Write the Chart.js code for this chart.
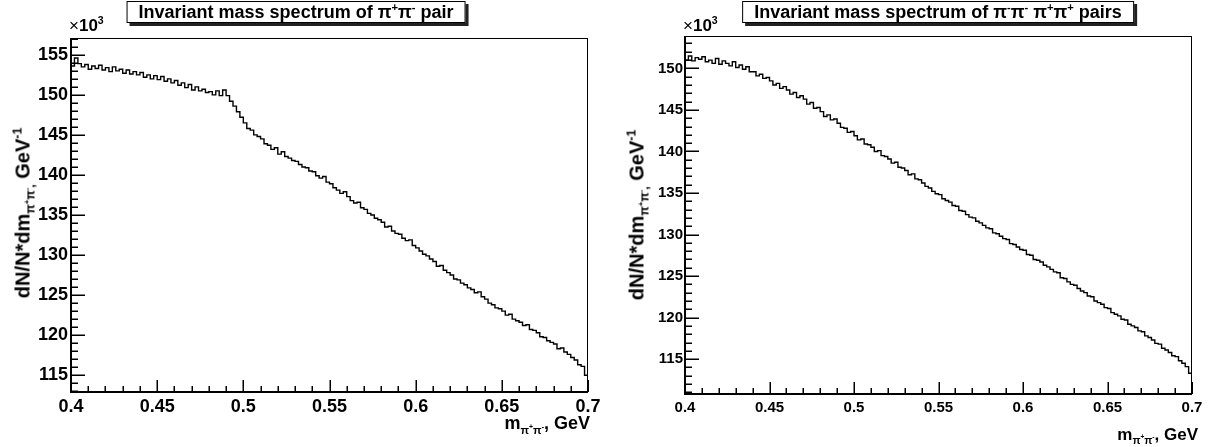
<!DOCTYPE html>
<html>
<head>
<meta charset="utf-8">
<script src="https://cdn.jsdelivr.net/npm/chart.js@4.4.1/dist/chart.umd.min.js"></script>
<style>
  body { margin: 0; background: #fff; width: 1216px; height: 447px; position: relative; overflow: hidden;
         font-family: "Liberation Sans", Arial, sans-serif; font-weight: bold; color: #000; }
  .panel { position: absolute; top: 0; width: 608px; height: 447px; }
  .panel canvas { position: absolute; left: 0; top: 0; }
  .title { position: absolute; top: 1px; transform: translateX(-50%); background: #fff; border: 1px solid #000;
           box-shadow: 3px 3px 0 #222; padding: 0 11px; font-size: 18px; line-height: 20px; white-space: nowrap; }
  .exp { position: absolute; top: 16px; font-size: 17px; }
  .exp span { font-weight: normal; }
  .ytitle { position: absolute; white-space: nowrap; transform: translate(-50%, -50%) rotate(-90deg); font-size: 20px; }
  .xtitle { position: absolute; white-space: nowrap; transform: translate(-100%, -50%); font-size: 18px; }
  sup, sub { font-size: 62%; line-height: 0; }
</style>
</head>
<body>
<div class="panel" style="left:0">
  <canvas id="pipiChart" width="608" height="447"></canvas>
  <div class="title" style="left:296px">Invariant mass spectrum of &pi;<sup>+</sup>&pi;<sup>-</sup> pair</div>
  <div class="exp" style="left:69px"><span>&times;</span>10<sup>3</sup></div>
  <div class="ytitle" style="left:23px; top:213px">dN/N*dm<sub>&pi;<sup>+</sup>&pi;<sup>-</sup>,</sub> GeV<sup>-1</sup></div>
  <div class="xtitle" style="left:590px; top:423px">m<sub>&pi;<sup>+</sup>&pi;<sup>-</sup></sub>, GeV</div>
</div>
<div class="panel" style="left:608px">
  <canvas id="fourPiChart" width="608" height="447"></canvas>
  <div class="title" style="left:330px">Invariant mass spectrum of &pi;<sup>-</sup>&pi;<sup>-</sup> &pi;<sup>+</sup>&pi;<sup>+</sup> pairs</div>
  <div class="exp" style="left:75px"><span>&times;</span>10<sup>3</sup></div>
  <div class="ytitle" style="left:29px; top:215px">dN/N*dm<sub>&pi;<sup>+</sup>&pi;<sup>-</sup>,</sub> GeV<sup>-1</sup></div>
  <div class="xtitle" style="left:590px; top:435px; font-size:17px">m<sub>&pi;<sup>+</sup>&pi;<sup>-</sup></sub>, GeV</div>
</div>
<script>
// histogram binning: 150 bins of 2 MeV from 0.4 to 0.7 GeV
const binStart = 0.4;
const binWidth = 0.002;

// dN/N*dm, units of 10^3 — pi+ pi- pair
const pipiCounts = [
  153.6, 154.6, 153.9, 153.5, 153.8, 153.2, 153.6, 153.3, 153.7, 153.1,
  153.4, 152.9, 153.5, 153.0, 153.2, 152.7, 153.1, 152.6, 152.9, 152.5,
  152.8, 152.2, 152.5, 152.0, 152.4, 151.9, 152.3, 151.7, 152.0, 151.5,
  151.8, 151.2, 151.5, 150.9, 151.3, 150.6, 151.0, 150.5, 150.7, 150.3,
  150.4, 150.0, 150.5, 149.9, 150.6, 149.9, 149.2, 148.6, 147.9, 147.2,
  146.5, 145.8, 145.6, 145.0, 144.8, 144.5, 143.9, 143.7, 143.2, 143.4,
  142.6, 142.9, 142.3, 142.1, 141.8, 141.7, 141.3, 141.0, 140.9, 140.5,
  140.4, 139.9, 139.6, 139.8, 139.1, 138.9, 138.4, 138.1, 137.7, 137.9,
  137.3, 136.8, 136.5, 136.6, 135.9, 135.7, 135.2, 135.0, 134.6, 134.4,
  134.1, 133.5, 133.6, 133.0, 132.7, 132.6, 132.1, 131.8, 131.9, 131.2,
  130.9, 130.5, 130.1, 129.9, 129.5, 129.2, 128.6, 128.7, 128.1, 127.8,
  127.5, 127.0, 126.9, 126.5, 126.3, 125.9, 125.7, 125.3, 125.4, 124.8,
  124.5, 124.0, 123.8, 123.4, 123.3, 123.0, 122.5, 122.6, 122.0, 121.8,
  121.6, 121.2, 121.3, 120.7, 120.6, 120.3, 119.8, 119.7, 119.3, 119.1,
  118.9, 118.3, 118.4, 117.9, 117.6, 117.2, 116.9, 116.3, 116.1, 115.0
];

// dN/N*dm, units of 10^3 — pi- pi- pi+ pi+ pairs
const fourPiCounts = [
  151.0, 151.5, 150.9, 151.3, 151.1, 151.4, 150.8, 151.0, 150.6, 151.2,
  150.5, 150.9, 150.6, 150.3, 150.8, 150.1, 150.4, 149.9, 150.2, 149.6,
  149.6, 149.1, 149.3, 148.8, 148.9, 148.5, 148.0, 148.2, 147.6, 147.8,
  147.4, 146.9, 147.1, 146.5, 146.7, 146.3, 145.7, 145.9, 145.2, 145.3,
  144.8, 144.2, 144.4, 143.8, 143.9, 143.4, 142.9, 142.8, 142.3, 142.4,
  141.9, 141.4, 141.5, 140.9, 140.8, 140.5, 140.0, 140.1, 139.5, 139.4,
  139.1, 138.6, 138.7, 138.1, 138.0, 137.7, 137.2, 137.3, 136.7, 136.6,
  136.2, 135.8, 135.6, 135.2, 134.9, 134.8, 134.3, 134.1, 133.9, 133.5,
  133.4, 132.9, 132.8, 132.4, 132.1, 132.0, 131.6, 131.4, 131.1, 130.8,
  130.7, 130.2, 130.1, 129.8, 129.5, 129.4, 128.9, 128.8, 128.5, 128.2,
  128.1, 127.6, 127.5, 127.0, 126.9, 126.7, 126.3, 126.1, 125.8, 125.5,
  125.4, 124.8, 124.7, 124.3, 124.0, 123.9, 123.5, 123.2, 123.0, 122.6,
  122.5, 122.0, 121.8, 121.6, 121.2, 121.1, 120.6, 120.4, 120.2, 119.8,
  119.7, 119.2, 119.0, 118.8, 118.4, 118.3, 117.8, 117.6, 117.3, 116.9,
  116.8, 116.3, 116.1, 115.8, 115.4, 115.3, 114.8, 114.5, 114.1, 113.3
];

// axis ticks
const xTickValues = [0.4, 0.45, 0.5, 0.55, 0.6, 0.65, 0.7];
const xTickLabels = ["0.4", "0.45", "0.5", "0.55", "0.6", "0.65", "0.7"];
const pipiYTicks = [115, 120, 125, 130, 135, 140, 145, 150, 155];
const fourPiYTicks = [115, 120, 125, 130, 135, 140, 145, 150];

// histogram as a stepped line: one point per lower bin edge plus the closing edge
function toSteps(counts) {
  const pts = counts.map((c, i) => ({ x: binStart + i * binWidth, y: c }));
  pts.push({ x: binStart + counts.length * binWidth, y: counts[counts.length - 1] });
  return pts;
}

// ROOT-like frame with inward ticks
const rootFrame = {
  id: "rootFrame",
  afterDatasetsDraw(chart, args, opts) {
    const { ctx, chartArea: a, scales } = chart;
    const x = scales.x, y = scales.y;
    ctx.save();
    ctx.strokeStyle = "#000";
    ctx.lineWidth = 1;
    ctx.strokeRect(a.left, a.top + 0.5, a.right - a.left - 0.5, a.bottom - a.top);
    ctx.lineWidth = 2;
    ctx.beginPath();
    ctx.moveTo(a.left, a.top);
    ctx.lineTo(a.left, a.bottom);
    ctx.lineTo(a.right, a.bottom);
    ctx.stroke();

    ctx.lineWidth = 1.5;
    ctx.beginPath();
    for (let v = Math.ceil(y.min); v <= y.max; v++) {
      const py = Math.round(y.getPixelForValue(v)) + 0.25;
      const len = v % 5 === 0 ? opts.yMajor : opts.yMajor / 2;
      ctx.moveTo(a.left, py);
      ctx.lineTo(a.left + len, py);
    }
    for (let k = 0; k <= 30; k++) {
      const px = Math.round(x.getPixelForValue(0.4 + k * 0.01)) + 0.25;
      const len = k % 5 === 0 ? opts.xMajor : opts.xMajor / 2;
      ctx.moveTo(px, a.bottom);
      ctx.lineTo(px, a.bottom - len);
    }
    ctx.stroke();
    ctx.restore();
  }
};

function makeChart(id, counts, yTicks, yMin, yMax, cfg) {
  const ctx = document.getElementById(id).getContext("2d");
  return new Chart(ctx, {
    type: "line",
    data: {
      datasets: [{
        data: toSteps(counts),
        stepped: "before",
        borderColor: "#000",
        borderWidth: 1.4,
        pointRadius: 0,
        fill: false
      }]
    },
    options: {
      responsive: false,
      animation: false,
      devicePixelRatio: 1,
      layout: { padding: { left: 0, top: cfg.top, right: cfg.right, bottom: 0 } },
      plugins: {
        legend: { display: false },
        tooltip: { enabled: false },
        rootFrame: { xMajor: 12, yMajor: 14 }
      },
      scales: {
        x: {
          type: "linear",
          min: 0.4,
          max: 0.7,
          bounds: "data",
          border: { display: false },
          grid: { display: false, drawTicks: false },
          afterBuildTicks: (s) => { s.ticks = xTickValues.map((v) => ({ value: v })); },
          afterFit: (s) => { s.height = cfg.xHeight; },
          ticks: {
            autoSkip: false,
            maxRotation: 0,
            padding: cfg.xPad,
            color: "#000",
            font: { family: "'Liberation Sans', Arial, sans-serif", size: cfg.font, weight: "bold" },
            callback: (v, i) => xTickLabels[i]
          }
        },
        y: {
          min: yMin,
          max: yMax,
          bounds: "data",
          border: { display: false },
          grid: { display: false, drawTicks: false },
          afterBuildTicks: (s) => { s.ticks = yTicks.map((v) => ({ value: v })); },
          afterFit: (s) => { s.width = cfg.yWidth; },
          ticks: {
            padding: cfg.yPad,
            color: "#000",
            font: { family: "'Liberation Sans', Arial, sans-serif", size: cfg.font, weight: "bold" },
            callback: (v) => String(v)
          }
        }
      }
    },
    plugins: [rootFrame]
  });
}

makeChart("pipiChart", pipiCounts, pipiYTicks, 112.9, 157.1,
  { top: 38, right: 20, xHeight: 55, yWidth: 71, font: 18, xPad: 4, yPad: 3 });
makeChart("fourPiChart", fourPiCounts, fourPiYTicks, 110.8, 153.9,
  { top: 36, right: 24, xHeight: 53, yWidth: 77, font: 15, xPad: 5, yPad: 2 });
</script>
</body>
</html>
